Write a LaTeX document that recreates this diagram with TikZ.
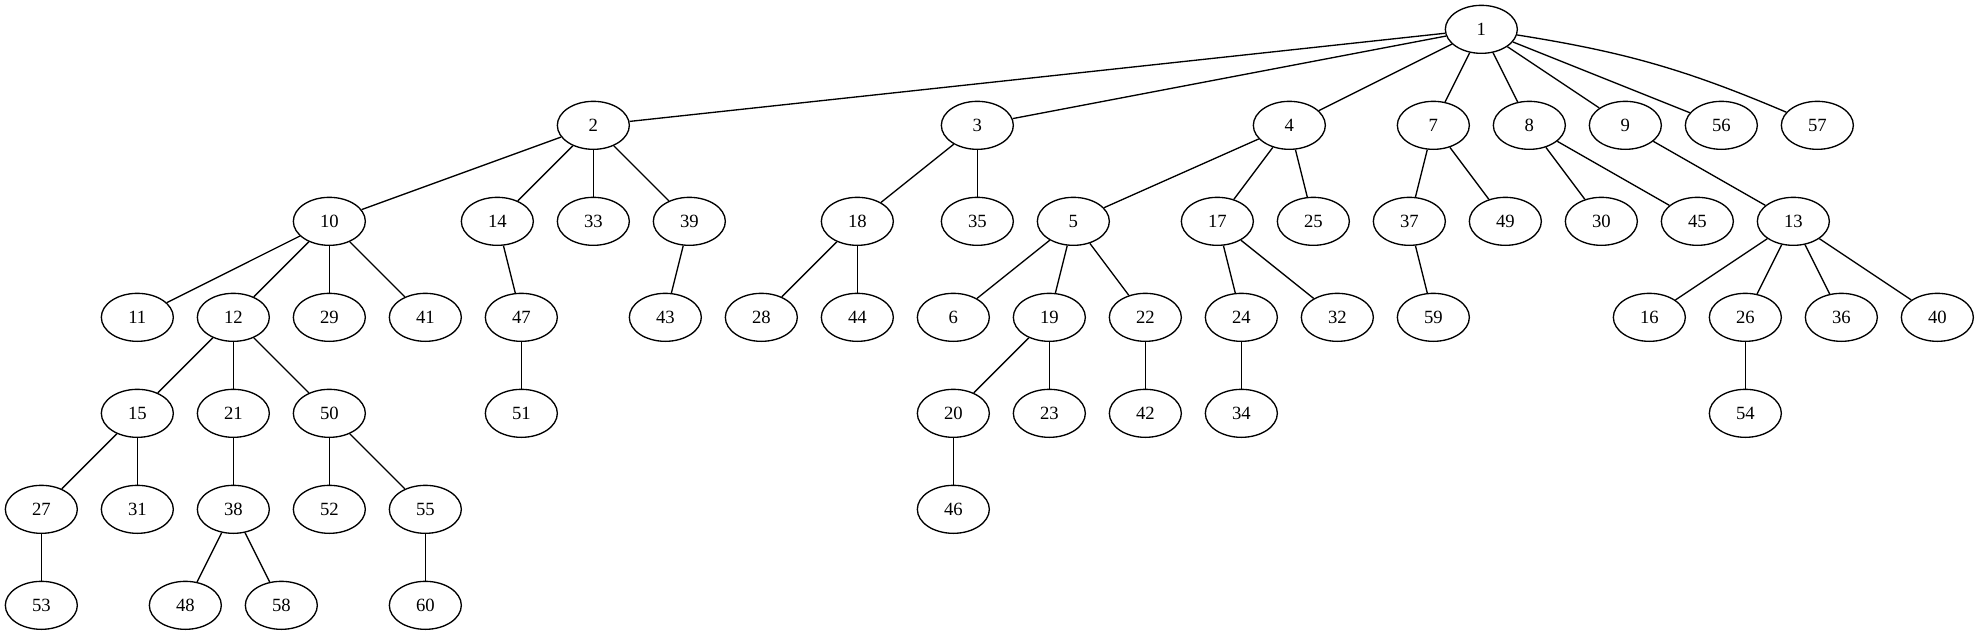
\documentclass[tikz,border=0pt]{standalone}
\usepackage{fontspec}
\setmainfont{Liberation Serif}
\usepackage{tikz}
\usetikzlibrary{shapes.geometric}

\begin{document}
\begin{tikzpicture}[
  x=1pt, y=-1pt,
  font=\fontsize{14}{16}\selectfont,
  vertex/.style={draw=black, ellipse, line width=1pt, inner sep=0pt,
    minimum width=54pt, minimum height=36pt},
  edge/.style={draw=black, line width=1pt}
]
\useasboundingbox (0,0) rectangle (1484.25,476.25);
% rank 0
\node[vertex] (n1) at (1111,22) {1};
% rank 1
\node[vertex] (n2) at (445,94) {2};
\node[vertex] (n3) at (733,94) {3};
\node[vertex] (n4) at (967,94) {4};
\node[vertex] (n7) at (1075,94) {7};
\node[vertex] (n8) at (1147,94) {8};
\node[vertex] (n9) at (1219,94) {9};
\node[vertex] (n56) at (1291,94) {56};
\node[vertex] (n57) at (1363,94) {57};
% rank 2
\node[vertex] (n10) at (247,166) {10};
\node[vertex] (n14) at (373,166) {14};
\node[vertex] (n33) at (445,166) {33};
\node[vertex] (n39) at (517,166) {39};
\node[vertex] (n18) at (643,166) {18};
\node[vertex] (n35) at (733,166) {35};
\node[vertex] (n5) at (805,166) {5};
\node[vertex] (n17) at (913,166) {17};
\node[vertex] (n25) at (985,166) {25};
\node[vertex] (n37) at (1057,166) {37};
\node[vertex] (n49) at (1129,166) {49};
\node[vertex] (n30) at (1201,166) {30};
\node[vertex] (n45) at (1273,166) {45};
\node[vertex] (n13) at (1345,166) {13};
% rank 3
\node[vertex] (n11) at (103,238) {11};
\node[vertex] (n12) at (175,238) {12};
\node[vertex] (n29) at (247,238) {29};
\node[vertex] (n41) at (319,238) {41};
\node[vertex] (n47) at (391,238) {47};
\node[vertex] (n43) at (499,238) {43};
\node[vertex] (n28) at (571,238) {28};
\node[vertex] (n44) at (643,238) {44};
\node[vertex] (n6) at (715,238) {6};
\node[vertex] (n19) at (787,238) {19};
\node[vertex] (n22) at (859,238) {22};
\node[vertex] (n24) at (931,238) {24};
\node[vertex] (n32) at (1003,238) {32};
\node[vertex] (n59) at (1075,238) {59};
\node[vertex] (n16) at (1237,238) {16};
\node[vertex] (n26) at (1309,238) {26};
\node[vertex] (n36) at (1381,238) {36};
\node[vertex] (n40) at (1453,238) {40};
% rank 4
\node[vertex] (n15) at (103,310) {15};
\node[vertex] (n21) at (175,310) {21};
\node[vertex] (n50) at (247,310) {50};
\node[vertex] (n51) at (391,310) {51};
\node[vertex] (n20) at (715,310) {20};
\node[vertex] (n23) at (787,310) {23};
\node[vertex] (n42) at (859,310) {42};
\node[vertex] (n34) at (931,310) {34};
\node[vertex] (n54) at (1309,310) {54};
% rank 5
\node[vertex] (n27) at (31,382) {27};
\node[vertex] (n31) at (103,382) {31};
\node[vertex] (n38) at (175,382) {38};
\node[vertex] (n52) at (247,382) {52};
\node[vertex] (n55) at (319,382) {55};
\node[vertex] (n46) at (715,382) {46};
% rank 6
\node[vertex] (n53) at (31,454) {53};
\node[vertex] (n48) at (139,454) {48};
\node[vertex] (n58) at (211,454) {58};
\node[vertex] (n60) at (319,454) {60};

\draw[edge] (n1) -- (n2);
\draw[edge] (n1) -- (n3);
\draw[edge] (n1) -- (n4);
\draw[edge] (n1) -- (n7);
\draw[edge] (n1) -- (n8);
\draw[edge] (n1) -- (n9);
\draw[edge] (n1) -- (n56);
\draw[edge] (n1) to[bend left=7] (n57);
\draw[edge] (n2) -- (n10);
\draw[edge] (n2) -- (n14);
\draw[edge] (n2) -- (n33);
\draw[edge] (n2) -- (n39);
\draw[edge] (n3) -- (n18);
\draw[edge] (n3) -- (n35);
\draw[edge] (n4) -- (n5);
\draw[edge] (n4) -- (n17);
\draw[edge] (n4) -- (n25);
\draw[edge] (n7) -- (n37);
\draw[edge] (n7) -- (n49);
\draw[edge] (n8) -- (n30);
\draw[edge] (n8) -- (n45);
\draw[edge] (n9) -- (n13);
\draw[edge] (n10) -- (n11);
\draw[edge] (n10) -- (n12);
\draw[edge] (n10) -- (n29);
\draw[edge] (n10) -- (n41);
\draw[edge] (n14) -- (n47);
\draw[edge] (n39) -- (n43);
\draw[edge] (n18) -- (n28);
\draw[edge] (n18) -- (n44);
\draw[edge] (n5) -- (n6);
\draw[edge] (n5) -- (n19);
\draw[edge] (n5) -- (n22);
\draw[edge] (n17) -- (n24);
\draw[edge] (n17) -- (n32);
\draw[edge] (n37) -- (n59);
\draw[edge] (n13) -- (n16);
\draw[edge] (n13) -- (n26);
\draw[edge] (n13) -- (n36);
\draw[edge] (n13) -- (n40);
\draw[edge] (n12) -- (n15);
\draw[edge] (n12) -- (n21);
\draw[edge] (n12) -- (n50);
\draw[edge] (n47) -- (n51);
\draw[edge] (n19) -- (n20);
\draw[edge] (n19) -- (n23);
\draw[edge] (n22) -- (n42);
\draw[edge] (n24) -- (n34);
\draw[edge] (n26) -- (n54);
\draw[edge] (n15) -- (n27);
\draw[edge] (n15) -- (n31);
\draw[edge] (n21) -- (n38);
\draw[edge] (n50) -- (n52);
\draw[edge] (n50) -- (n55);
\draw[edge] (n20) -- (n46);
\draw[edge] (n27) -- (n53);
\draw[edge] (n38) -- (n48);
\draw[edge] (n38) -- (n58);
\draw[edge] (n55) -- (n60);
\end{tikzpicture}
\end{document}
